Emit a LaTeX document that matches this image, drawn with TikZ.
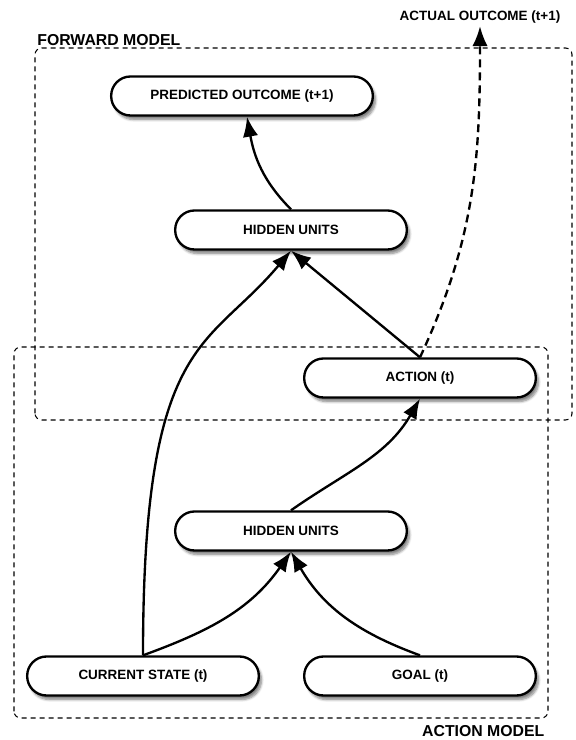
\documentclass[tikz,border=0pt]{standalone}
\usepackage{fontspec}
\setmainfont{Liberation Sans}
\usetikzlibrary{arrows.meta,shadows.blur}

\begin{document}
\begin{tikzpicture}[>={Latex[length=6mm,width=4.6mm]},line width=2pt,
unit/.style={draw,fill=white,rounded corners=5.8mm,minimum height=11.7mm,minimum width=6.95cm,
  font=\fontsize{11.5}{13}\selectfont\bfseries,
  blur shadow={shadow xshift=.8mm,shadow yshift=-1.2mm,shadow opacity=50,shadow blur steps=6}},
model/.style={draw,line width=.9pt,dash pattern=on 1.5mm off 1.2mm,rounded corners=2mm},
lab/.style={font=\fontsize{13.5}{15}\selectfont\bfseries,inner sep=1pt}]
\useasboundingbox (0,0) rectangle (17.25,22.2);
\draw[model] (1.05,9.6) rectangle (17.16,20.76);
\draw[model] (0.42,0.66) rectangle (16.44,11.79);
\node[lab,anchor=base west] (fwdlab) at (1.05,20.82) {FORWARD MODEL};
\node[lab,anchor=base east] (actlab) at (16.4,0.1) {ACTION MODEL};
\node[unit,minimum width=7.85cm] (pred) at (7.26,19.32) {PREDICTED OUTCOME (t+1)};
\node[unit] (hidtop) at (8.73,15.3) {HIDDEN UNITS};
\node[unit] (action) at (12.6,10.86) {ACTION (t)};
\node[unit] (hidbot) at (8.73,6.27) {HIDDEN UNITS};
\node[unit] (cur) at (4.29,1.92) {CURRENT STATE (t)};
\node[unit] (goal) at (12.6,1.92) {GOAL (t)};
\node[font=\fontsize{11.5}{13}\selectfont\bfseries,inner sep=1pt,anchor=base] (actual) at (14.4,21.57) {ACTUAL OUTCOME (t+1)};
\draw[->] (hidtop.north) to[out=135,in=-80] ([xshift=1.5mm]pred.south);
\draw[->] (cur.north) to[out=90,in=-130,out distance=9.6cm,in distance=3.9cm] (hidtop.south);
\draw[->] (cur.north) to[out=20,in=-125] (hidbot.south);
\draw[->] (goal.north) to[out=160,in=-60] (hidbot.south);
\draw[->] (hidbot.north) to[out=35,in=-120] (action.south);
\draw[->] (action.north) -- (hidtop.south);
\draw[->,dash pattern=on 2.4mm off 1.5mm] (action.north) to[out=65,in=-90] (actual.south);
\end{tikzpicture}
\end{document}
